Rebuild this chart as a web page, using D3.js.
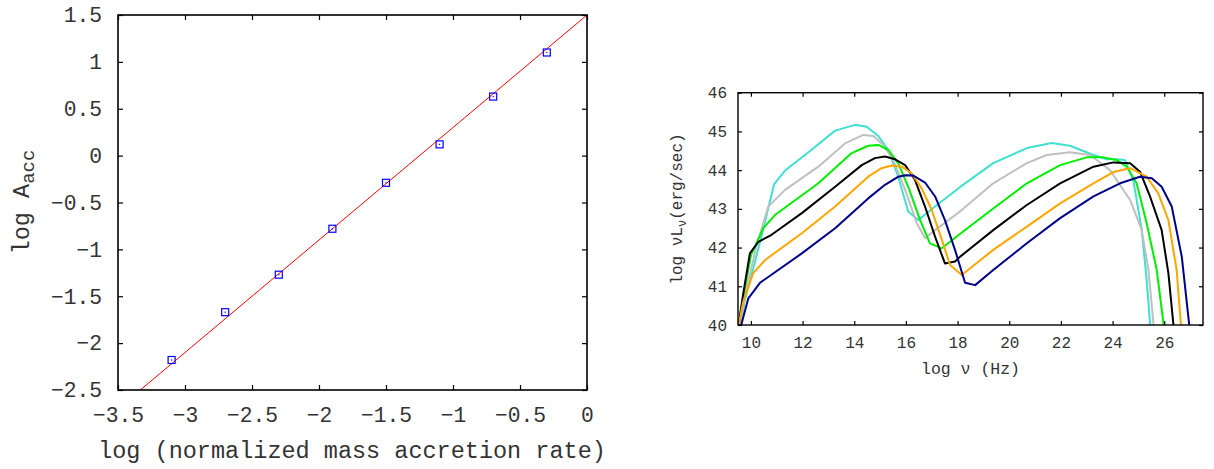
<!DOCTYPE html>
<html lang="en">
<head>
<meta charset="utf-8">
<title>Accretion and SED</title>
<script type="text/javascript" src="https://d3js.org/d3.v7.min.js"></script>
<style>
  body { margin: 0; background: #fff; }
  svg text { font-family: "Liberation Mono", "DejaVu Sans Mono", monospace; fill: #333; }
</style>
</head>
<body>
<script type="text/javascript">
// ---- left panel data ----
var accX = [-3.1, -2.7, -2.3, -1.9, -1.5, -1.1, -0.7, -0.3];
var accY = [-2.18, -1.67, -1.27, -0.78, -0.29, 0.12, 0.63, 1.10];
var fitSlope = 1.2;
var fitIntercept = 1.5;
var leftXTicks = [-3.5, -3, -2.5, -2, -1.5, -1, -0.5, 0];
var leftYTicks = [-2.5, -2, -1.5, -1, -0.5, 0, 0.5, 1, 1.5];

// ---- right panel data (log nu, log nuLnu) ----
var sedCyan = [[9.6,39.9],[9.75,40.6],[10.3,42.0],[10.9,43.64],[11.32,43.99],[12.3,44.5],[13.26,45.02],[14.03,45.17],[14.48,45.12],[14.93,44.88],[15.32,44.52],[15.7,43.83],[16.09,42.93],[16.48,42.71],[17.3,43.15],[18.09,43.56],[19.38,44.18],[20.68,44.57],[21.64,44.70],[22.35,44.63],[23.26,44.39],[23.77,44.28],[24.16,44.28],[24.48,44.26],[24.8,43.75],[25.13,42.45],[25.32,41.16],[25.45,40.04],[25.47,39.8]];
var sedGray = [[9.55,39.9],[9.75,40.7],[10.2,42.0],[10.67,43.06],[11.32,43.49],[12.61,44.09],[13.64,44.69],[14.35,44.91],[14.74,44.88],[15.12,44.65],[15.51,44.26],[15.97,43.49],[16.42,42.63],[16.74,42.24],[17.13,42.45],[18.09,42.93],[19.38,43.66],[20.68,44.18],[21.45,44.39],[22.35,44.46],[23.13,44.39],[23.9,44.0],[24.68,43.23],[25.13,42.45],[25.39,41.42],[25.58,40.04],[25.6,39.8]];
var sedGreen = [[9.5,39.9],[9.7,40.7],[10.0,41.8],[10.48,42.5],[10.93,42.84],[12.61,43.66],[13.9,44.44],[14.54,44.63],[14.93,44.65],[15.32,44.52],[15.7,44.18],[16.09,43.57],[16.55,42.71],[16.93,42.11],[17.39,41.98],[18.09,42.35],[19.38,43.01],[20.68,43.66],[21.97,44.13],[23.0,44.33],[23.64,44.33],[24.16,44.26],[24.55,44.09],[24.93,43.66],[25.32,42.63],[25.71,41.42],[25.97,40.04],[26.0,39.8]];
var sedBlack = [[9.5,39.9],[9.7,40.8],[9.96,41.85],[10.29,42.15],[10.8,42.33],[11.97,42.89],[13.26,43.57],[14.29,44.13],[14.8,44.31],[15.19,44.35],[15.58,44.28],[15.97,44.13],[16.35,43.75],[16.74,43.06],[17.13,42.28],[17.51,41.59],[17.9,41.64],[18.09,41.76],[19.38,42.45],[20.68,43.1],[21.97,43.66],[23.26,44.09],[24.03,44.2],[24.68,44.18],[25.06,43.96],[25.45,43.32],[25.9,42.45],[26.16,41.34],[26.35,40.04],[26.38,39.8]];
var sedOrange = [[9.5,39.9],[9.7,40.6],[10.09,41.34],[10.55,41.68],[11.97,42.37],[13.26,43.06],[14.54,43.83],[15.06,44.05],[15.45,44.12],[15.84,44.09],[16.22,43.92],[16.61,43.53],[17.0,42.97],[17.39,42.2],[17.71,41.55],[18.16,41.29],[19.38,41.94],[20.68,42.54],[21.97,43.14],[23.26,43.66],[24.03,43.95],[24.68,44.05],[25.32,43.83],[25.77,43.4],[26.16,42.71],[26.48,41.42],[26.64,40.04],[26.67,39.8]];
var sedNavy = [[9.58,39.9],[9.64,40.04],[9.9,40.69],[10.35,41.09],[11.97,41.85],[13.26,42.5],[14.54,43.27],[15.19,43.62],[15.71,43.83],[15.97,43.87],[16.29,43.86],[16.74,43.68],[17.13,43.32],[17.51,42.71],[17.9,41.94],[18.29,41.09],[18.68,41.03],[19.38,41.42],[20.68,42.11],[21.97,42.76],[23.26,43.32],[24.29,43.66],[25.06,43.83],[25.52,43.79],[25.9,43.57],[26.29,43.06],[26.68,41.76],[26.96,40.04],[26.99,39.8]];
var sedColors = ["#40e0d0", "#c0c0c0", "#00ee00", "#000000", "#ffa500", "#00008b"];
var rightXTicks = [10, 12, 14, 16, 18, 20, 22, 24, 26];
var rightYTicks = [40, 41, 42, 43, 44, 45, 46];

var W = 1214, H = 469;
var svg = d3.select("body").append("svg")
  .attr("width", W).attr("height", H);

var fmt = d3.format("");

// helper: inward ticks on all four sides plus a frame
function frameAxes(g, x, y, xt, yt, o) {
  var xr = x.range(), yr = y.range();
  g.append("g")
    .attr("transform", "translate(0," + yr[0] + ")")
    .call(d3.axisBottom(x).tickValues(xt).tickFormat(fmt).tickSize(-o.tick).tickPadding(o.padX))
    .call(styleAxis, o.font);
  g.append("g")
    .attr("transform", "translate(0," + yr[1] + ")")
    .call(d3.axisTop(x).tickValues(xt).tickFormat("").tickSize(-o.tick))
    .call(styleAxis, o.font);
  g.append("g")
    .attr("transform", "translate(" + xr[0] + ",0)")
    .call(d3.axisLeft(y).tickValues(yt).tickFormat(fmt).tickSize(-o.tick).tickPadding(o.padY))
    .call(styleAxis, o.font);
  g.append("g")
    .attr("transform", "translate(" + xr[1] + ",0)")
    .call(d3.axisRight(y).tickValues(yt).tickFormat("").tickSize(-o.tick))
    .call(styleAxis, o.font);
  g.append("rect")
    .attr("x", xr[0]).attr("y", yr[1])
    .attr("width", xr[1] - xr[0]).attr("height", yr[0] - yr[1])
    .attr("fill", "none").attr("stroke", "#000").attr("stroke-width", o.frame);
}
function styleAxis(sel, font) {
  sel.select(".domain").remove();
  sel.selectAll(".tick line").attr("stroke", "#000").attr("stroke-width", 1.2);
  sel.selectAll(".tick text")
    .attr("font-family", null).attr("font-size", font + "px").attr("fill", "#333");
  sel.attr("font-family", null);
}

// ================= left panel =================
var xL = d3.scaleLinear().domain([-3.5, 0]).range([118, 587]);
var yL = d3.scaleLinear().domain([-2.5, 1.5]).range([390, 15]);
var gL = svg.append("g");

svg.append("clipPath").attr("id", "clipL").append("rect")
  .attr("x", 118).attr("y", 15).attr("width", 469).attr("height", 375);

// fitted line
var fitX0 = (-2.5 - fitIntercept) / fitSlope;
gL.append("line")
  .attr("clip-path", "url(#clipL)")
  .attr("x1", xL(fitX0)).attr("y1", yL(fitSlope * fitX0 + fitIntercept))
  .attr("x2", xL(0)).attr("y2", yL(fitIntercept))
  .attr("stroke", "#ff0000").attr("stroke-width", 1);

// square markers
var pts = accX.map(function(d, i) { return [d, accY[i]]; });
gL.selectAll("rect.pt").data(pts).enter().append("rect")
  .attr("class", "pt")
  .attr("x", function(d) { return xL(d[0]) - 3.5; })
  .attr("y", function(d) { return yL(d[1]) - 3.5; })
  .attr("width", 7).attr("height", 7)
  .attr("fill", "none").attr("stroke", "#0000ff").attr("stroke-width", 1.2);
gL.selectAll("rect.dot").data(pts).enter().append("rect")
  .attr("class", "dot")
  .attr("x", function(d) { return xL(d[0]) - 0.6; })
  .attr("y", function(d) { return yL(d[1]) - 0.6; })
  .attr("width", 1.2).attr("height", 1.2)
  .attr("fill", "#0000ff");

frameAxes(gL, xL, yL, leftXTicks, leftYTicks, { tick: 5, padX: 16.4, padY: 16, font: 21.3, frame: 1.6 });

gL.append("text")
  .attr("x", 352).attr("y", 458)
  .attr("text-anchor", "middle").attr("font-size", "23.5px")
  .text("log (normalized mass accretion rate)");

var ylab = gL.append("text")
  .attr("transform", "translate(28.5,202) rotate(-90)")
  .attr("text-anchor", "middle").attr("font-size", "23.5px");
ylab.append("tspan").text("log A");
ylab.append("tspan").attr("font-size", "19px").attr("dy", "5").text("acc");

// ================= right panel =================
var xR = d3.scaleLinear().domain([9.5, 27.5]).range([738, 1203]);
var yR = d3.scaleLinear().domain([40, 46]).range([325, 92.7]);
var gR = svg.append("g");

svg.append("clipPath").attr("id", "clipR").append("rect")
  .attr("x", 738).attr("y", 92.7).attr("width", 465).attr("height", 232.3);

var seds = [sedCyan, sedGray, sedGreen, sedBlack, sedOrange, sedNavy];
var line = d3.line()
  .x(function(d) { return xR(d[0]); })
  .y(function(d) { return yR(d[1]); });

gR.append("g").attr("clip-path", "url(#clipR)")
  .selectAll("path").data(seds).enter().append("path")
  .attr("d", line)
  .attr("fill", "none")
  .attr("stroke", function(d, i) { return sedColors[i]; })
  .attr("stroke-width", 2)
  .attr("stroke-linejoin", "round");

frameAxes(gR, xR, yR, rightXTicks, rightYTicks, { tick: 4, padX: 11.3, padY: 11, font: 16, frame: 1.4 });

gR.append("text")
  .attr("x", 970.5).attr("y", 374)
  .attr("text-anchor", "middle").attr("font-size", "16.5px")
  .text("log \u03bd (Hz)");

var ylabR = gR.append("text")
  .attr("transform", "translate(682,209) rotate(-90)")
  .attr("text-anchor", "middle").attr("font-size", "16px");
ylabR.append("tspan").text("log \u03bdL");
ylabR.append("tspan").attr("font-size", "12px").attr("dy", "4").text("\u03bd");
ylabR.append("tspan").attr("dy", "-4").text("(erg/sec)");
</script>
</body>
</html>
